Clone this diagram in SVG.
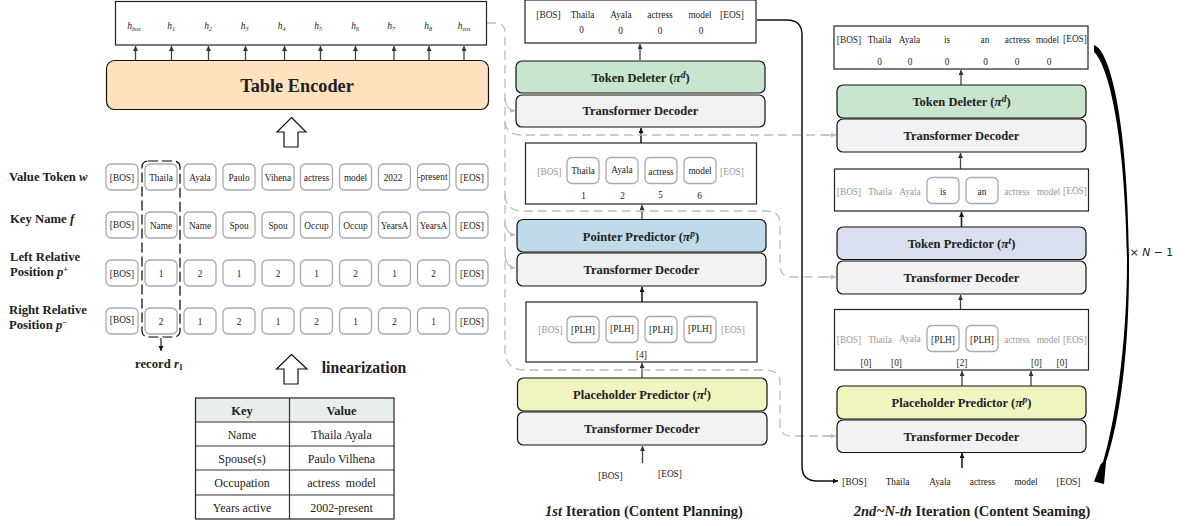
<svg xmlns="http://www.w3.org/2000/svg" width="1187" height="526" viewBox="0 0 1187 526">
<style>
text{font-family:"Liberation Serif","Times New Roman",serif;fill:#222;text-anchor:middle}
.t{font-size:9.300px}
.g{font-size:9.300px;fill:#999}
.h{font-size:9.500px;font-style:italic}
.s{font-size:6px}
.l{font-size:12.700px;font-weight:bold;text-anchor:start}
.b{font-weight:bold;font-size:12.500px}
.pi{font-style:italic;font-size:13.500px}
.sup{font-style:italic;font-size:9.500px}
.c{font-size:12px}
.tb{fill:#fff;stroke:#aaa;stroke-width:1.3}
.box{fill:#fff;stroke:#222;stroke-width:1.2}
.n{stroke:#111;stroke-width:1.2}
.a{fill:none;stroke:#444;stroke-width:1.3;marker-end:url(#ah)}
.k{fill:none;stroke:#222;stroke-width:1.6;marker-end:url(#kh)}
.d{fill:none;stroke:#bdbdbd;stroke-width:1.3;stroke-dasharray:9 5}
.da{fill:none;stroke:#bdbdbd;stroke-width:1.3;marker-end:url(#gh)}
</style>
<defs>
<marker id="ah" markerUnits="userSpaceOnUse" markerWidth="7" markerHeight="7" refX="5" refY="2.500" orient="auto"><path d="M0 0L5 2.500L0 5z" fill="#333"/></marker>
<marker id="gh" markerUnits="userSpaceOnUse" markerWidth="7" markerHeight="7" refX="5" refY="2.500" orient="auto"><path d="M0 0L5 2.500L0 5z" fill="#bdbdbd"/></marker>
<marker id="kh" markerUnits="userSpaceOnUse" markerWidth="7" markerHeight="7" refX="5" refY="2.500" orient="auto"><path d="M0 0L5 2.500L0 5z" fill="#111"/></marker>
</defs>

<g id="connectors">
<path class="a" d="M135.500 60V46"/><path class="a" d="M171.500 60V46"/><path class="a" d="M208.500 60V46"/><path class="a" d="M245.500 60V46"/><path class="a" d="M284.500 60V46"/><path class="a" d="M320.500 60V46"/><path class="a" d="M355.500 60V46"/><path class="a" d="M394 60V46"/><path class="a" d="M429 60V46"/><path class="a" d="M464 60V46"/>
<path class="a" d="M640 60V44"/><path class="k" d="M641 143V128"/><path class="a" d="M642 219V205"/><path class="k" d="M642 302V287"/><path class="a" d="M642 378V363"/><path class="a" d="M642.500 463V446"/>
<path class="a" d="M961 85V70"/><path class="a" d="M960.500 169V153"/><path class="k" d="M961.500 227V212"/><path class="a" d="M960.500 309V295"/><path class="a" d="M962 386V371"/><path class="a" d="M1031 386V371"/><path class="k" d="M962 468V453"/>
<path d="M161 338V351" fill="none" stroke="#222" stroke-width="1.2" marker-end="url(#kh)"/>
<path class="d" d="M487 23H495Q505 23 505 33V350Q505 370 525 370H765Q780 370 780 382V425Q780 436 792 436H832"/>
<path class="d" d="M505 122Q506 135 522 135H832"/>
<path class="d" d="M505 195Q506 211 522 211H765Q780 211 780 223V265Q780 277 792 277H832"/>
<path class="da" d="M505 98Q506 110 515 111"/>
<path class="da" d="M505 222Q506 234 515 235"/>
<path class="da" d="M505 255Q506 267 515 268"/>
<path class="da" d="M822 135H836"/><path class="da" d="M822 277H836"/><path class="da" d="M822 436H836"/>
<path d="M757 20H787Q802 20 802 35V466Q802 481 817 481H838" fill="none" stroke="#111" stroke-width="1.5" marker-end="url(#kh)"/>
<path d="M1094 45C1110 50 1128 120 1129 260C1129.500 350 1120 420 1106 462L1104 484L1094 481.500L1100.500 464.500L1103 462C1114 425 1127 350 1127 260C1125 130 1108 65 1094 52Z" fill="#000"/>
</g>

<g id="encoder-output">
<rect class="box" x="115.500" y="1.500" width="371" height="43.500"/>
<text class="h" x="134" y="29">h<tspan class="s" dy="1.500">box</tspan></text>
<text class="h" x="171" y="29">h<tspan class="s" dy="1.500">1</tspan></text>
<text class="h" x="208" y="29">h<tspan class="s" dy="1.500">2</tspan></text>
<text class="h" x="244.500" y="29">h<tspan class="s" dy="1.500">3</tspan></text>
<text class="h" x="281.500" y="29">h<tspan class="s" dy="1.500">4</tspan></text>
<text class="h" x="318" y="29">h<tspan class="s" dy="1.500">5</tspan></text>
<text class="h" x="355" y="29">h<tspan class="s" dy="1.500">6</tspan></text>
<text class="h" x="391" y="29">h<tspan class="s" dy="1.500">7</tspan></text>
<text class="h" x="428" y="29">h<tspan class="s" dy="1.500">8</tspan></text>
<text class="h" x="464" y="29">h<tspan class="s" dy="1.500">eos</tspan></text>
</g>

<g id="table-encoder">
<rect x="106.500" y="60.500" width="382" height="49" rx="8" fill="#fde2bd" stroke="#111" stroke-width="1.2"/>
<text x="297" y="92" font-size="18.300px" font-weight="bold">Table Encoder</text>
</g>
<g id="up-arrow-1"><path d="M291.500 117.500L306 132H298V147H284V132H277Z" fill="#fff" stroke="#111" stroke-width="1.2"/></g>
<g id="up-arrow-2"><path d="M291.500 354.500L307 369H298V384H284V369H276.500Z" fill="#fff" stroke="#111" stroke-width="1.2"/></g>
<g id="linearization-label"><text x="364" y="373" font-weight="bold" font-size="15.700px">linearization</text></g>

<g id="row-labels">
<text class="l" x="9" y="181">Value Token <tspan font-style="italic">w</tspan></text>
<text class="l" x="10" y="223">Key Name <tspan font-style="italic">f</tspan></text>
<text class="l" x="10" y="261">Left Relative</text>
<text class="l" x="10" y="276">Position <tspan font-style="italic">p</tspan><tspan font-size="8.500" dy="-4">+</tspan></text>
<text class="l" x="9" y="314">Right Relative</text>
<text class="l" x="9" y="329">Position <tspan font-style="italic">p</tspan><tspan font-size="8.500" dy="-4">−</tspan></text>
<text class="l" x="135" y="368">record <tspan font-style="italic">r</tspan><tspan font-size="8.500" dy="2">1</tspan></text>
</g>

<g id="token-grid">
<g id="row-value">
<rect class="tb" x="106" y="164" width="32" height="26" rx="5"/><text class="t" x="122" y="181">[BOS]</text>
<rect class="tb" x="145" y="164" width="32" height="26" rx="5"/><text class="t" x="161" y="181">Thaila</text>
<rect class="tb" x="184" y="164" width="32" height="26" rx="5"/><text class="t" x="200" y="181">Ayala</text>
<rect class="tb" x="223" y="164" width="32" height="26" rx="5"/><text class="t" x="239" y="181">Paulo</text>
<rect class="tb" x="262" y="164" width="32" height="26" rx="5"/><text class="t" x="278" y="181">Vihena</text>
<rect class="tb" x="300.500" y="164" width="32" height="26" rx="5"/><text class="t" x="316.500" y="181">actress</text>
<rect class="tb" x="339.500" y="164" width="32" height="26" rx="5"/><text class="t" x="355.500" y="181">model</text>
<rect class="tb" x="378.500" y="164" width="32" height="26" rx="5"/><text class="t" x="393" y="181">2022</text>
<rect class="tb" x="417.500" y="164" width="32" height="26" rx="5"/><text class="t" x="432.500" y="179.500">-present</text>
<rect class="tb" x="456" y="164" width="32" height="26" rx="5"/><text class="t" x="472" y="181">[EOS]</text>
</g>
<g id="row-key">
<rect class="tb" x="106" y="212" width="32" height="26" rx="5"/><text class="t" x="122" y="228">[BOS]</text>
<rect class="tb" x="145" y="212" width="32" height="26" rx="5"/><text class="t" x="161" y="229">Name</text>
<rect class="tb" x="184" y="212" width="32" height="26" rx="5"/><text class="t" x="200" y="229">Name</text>
<rect class="tb" x="223" y="212" width="32" height="26" rx="5"/><text class="t" x="239" y="229">Spou</text>
<rect class="tb" x="262" y="212" width="32" height="26" rx="5"/><text class="t" x="278" y="229">Spou</text>
<rect class="tb" x="300.500" y="212" width="32" height="26" rx="5"/><text class="t" x="316.500" y="229">Occup</text>
<rect class="tb" x="339.500" y="212" width="32" height="26" rx="5"/><text class="t" x="355.500" y="229">Occup</text>
<rect class="tb" x="378.500" y="212" width="32" height="26" rx="5"/><text class="t" x="394.500" y="229">YearsA</text>
<rect class="tb" x="417.500" y="212" width="32" height="26" rx="5"/><text class="t" x="433.500" y="229">YearsA</text>
<rect class="tb" x="456" y="212" width="32" height="26" rx="5"/><text class="t" x="472" y="229">[EOS]</text>
</g>
<g id="row-left">
<rect class="tb" x="106" y="260" width="32" height="26" rx="5"/><text class="t" x="122" y="277">[BOS]</text>
<rect class="tb" x="145" y="260" width="32" height="26" rx="5"/><text class="t" x="161" y="277">1</text>
<rect class="tb" x="184" y="260" width="32" height="26" rx="5"/><text class="t" x="200" y="277">2</text>
<rect class="tb" x="223" y="260" width="32" height="26" rx="5"/><text class="t" x="239" y="277">1</text>
<rect class="tb" x="262" y="260" width="32" height="26" rx="5"/><text class="t" x="278" y="277">2</text>
<rect class="tb" x="300.500" y="260" width="32" height="26" rx="5"/><text class="t" x="316.500" y="277">1</text>
<rect class="tb" x="339.500" y="260" width="32" height="26" rx="5"/><text class="t" x="355.500" y="277">2</text>
<rect class="tb" x="378.500" y="260" width="32" height="26" rx="5"/><text class="t" x="394.500" y="277">1</text>
<rect class="tb" x="417.500" y="260" width="32" height="26" rx="5"/><text class="t" x="433.500" y="277">2</text>
<rect class="tb" x="456" y="260" width="32" height="26" rx="5"/><text class="t" x="472" y="277">[EOS]</text>
</g>
<g id="row-right">
<rect class="tb" x="106" y="308" width="32" height="26" rx="5"/><text class="t" x="122" y="323">[BOS]</text>
<rect class="tb" x="145" y="308" width="32" height="26" rx="5"/><text class="t" x="161" y="325">2</text>
<rect class="tb" x="184" y="308" width="32" height="26" rx="5"/><text class="t" x="200" y="325">1</text>
<rect class="tb" x="223" y="308" width="32" height="26" rx="5"/><text class="t" x="239" y="325">2</text>
<rect class="tb" x="262" y="308" width="32" height="26" rx="5"/><text class="t" x="278" y="325">1</text>
<rect class="tb" x="300.500" y="308" width="32" height="26" rx="5"/><text class="t" x="316.500" y="325">2</text>
<rect class="tb" x="339.500" y="308" width="32" height="26" rx="5"/><text class="t" x="355.500" y="325">1</text>
<rect class="tb" x="378.500" y="308" width="32" height="26" rx="5"/><text class="t" x="394.500" y="325">2</text>
<rect class="tb" x="417.500" y="308" width="32" height="26" rx="5"/><text class="t" x="433.500" y="325">1</text>
<rect class="tb" x="456" y="308" width="32" height="26" rx="5"/><text class="t" x="472" y="325">[EOS]</text>
</g>
</g>
<g id="record-r1"><rect x="142" y="161" width="38" height="176" rx="6" fill="none" stroke="#000" stroke-width="1.200" stroke-dasharray="10 4"/></g>

<g id="source-table">
<rect x="195.500" y="398" width="198.500" height="24" fill="#e8efeb"/>
<rect x="195.500" y="398" width="198.500" height="121" fill="none" stroke="#222" stroke-width="1.2"/>
<path d="M195.500 422H394M195.500 446H394M195.500 470H394M195.500 495H394M289.500 398V519" stroke="#333" stroke-width="1.2" fill="none"/>
<text x="242" y="415" font-size="12.500px" font-weight="bold">Key</text><text x="341.500" y="415" font-size="12.500px" font-weight="bold">Value</text>
<text class="c" x="242" y="439">Name</text><text class="c" x="341.500" y="439">Thaila Ayala</text>
<text class="c" x="242" y="463">Spouse(s)</text><text class="c" x="341.500" y="463">Paulo Vilhena</text>
<text class="c" x="242" y="487">Occupation</text><text class="c" x="341.500" y="487" xml:space="preserve">actress  model</text>
<text class="c" x="242" y="512">Years active</text><text class="c" x="341.500" y="512">2002-present</text>
</g>

<g id="iter1-output">
<rect class="box" x="525" y="0" width="231" height="43"/>
<text class="t" x="548.500" y="18">[BOS]</text><text class="t" x="582.500" y="18">Thaila</text><text class="t" x="621" y="18">Ayala</text><text class="t" x="660" y="18">actress</text><text class="t" x="700" y="18">model</text><text class="t" x="732" y="18">[EOS]</text>
<text class="t" x="581.500" y="33">0</text><text class="t" x="620.500" y="34">0</text><text class="t" x="660" y="34">0</text><text class="t" x="701" y="34">0</text>
</g>
<g id="iter1-deleter"><rect class="n" x="516" y="61" width="249" height="32" rx="6" fill="#c9e5cd"/><text class="b" x="640.500" y="82">Token Deleter (<tspan class="pi">π</tspan><tspan class="sup" dy="-4">d</tspan><tspan dy="4">)</tspan></text></g>
<g id="iter1-decoder3"><rect class="n" x="516" y="95" width="249" height="32" rx="6" fill="#f2f2f5"/><text class="b" x="640.500" y="115">Transformer Decoder</text></g>
<g id="iter1-pointed">
<rect class="box" x="525.500" y="143" width="231" height="61"/>
<text class="g" x="549.500" y="175">[BOS]</text><text class="g" x="732" y="175">[EOS]</text>
<rect class="tb" x="567" y="157.500" width="32" height="26" rx="5"/><text class="t" x="583" y="174">Thaila</text>
<rect class="tb" x="606" y="157.500" width="32" height="26" rx="5"/><text class="t" x="622" y="173">Ayala</text>
<rect class="tb" x="645" y="157.500" width="32" height="26" rx="5"/><text class="t" x="661" y="174.500">actress</text>
<rect class="tb" x="684" y="157.500" width="32" height="26" rx="5"/><text class="t" x="700" y="174">model</text>
<text class="t" x="583.500" y="199">1</text><text class="t" x="622.500" y="199">2</text><text class="t" x="660.500" y="198">5</text><text class="t" x="699.500" y="199">6</text>
</g>
<g id="iter1-pointer"><rect class="n" x="517" y="219.500" width="249" height="32.500" rx="6" fill="#bfdbe9"/><text class="b" x="641" y="240.500">Pointer Predictor (<tspan class="pi">π</tspan><tspan class="sup" dy="-4">p</tspan><tspan dy="4">)</tspan></text></g>
<g id="iter1-decoder2"><rect class="n" x="517" y="253" width="249" height="33" rx="6" fill="#f2f2f5"/><text class="b" x="641.500" y="274">Transformer Decoder</text></g>
<g id="iter1-placeholders">
<rect class="box" x="526" y="302" width="231" height="60"/>
<text class="g" x="550.500" y="333">[BOS]</text><text class="g" x="733" y="333">[EOS]</text>
<rect class="tb" x="567" y="316.500" width="32" height="26" rx="5"/><text class="t" x="583" y="333">[PLH]</text>
<rect class="tb" x="606" y="316.500" width="32" height="26" rx="5"/><text class="t" x="622" y="332">[PLH]</text>
<rect class="tb" x="645" y="316.500" width="32" height="26" rx="5"/><text class="t" x="661" y="333">[PLH]</text>
<rect class="tb" x="684" y="316.500" width="32" height="26" rx="5"/><text class="t" x="700" y="332">[PLH]</text>
<text class="t" x="641.500" y="358">[4]</text>
</g>
<g id="iter1-placeholder"><rect class="n" x="517.500" y="378" width="249.500" height="33" rx="6" fill="#f2f4c0"/><text class="b" x="642" y="399">Placeholder Predictor (<tspan class="pi">π</tspan><tspan class="sup" dy="-4">l</tspan><tspan dy="4">)</tspan></text></g>
<g id="iter1-decoder1"><rect class="n" x="517.500" y="412" width="249.500" height="33" rx="6" fill="#f2f2f5"/><text class="b" x="642" y="433">Transformer Decoder</text></g>
<g id="iter1-input"><text class="t" x="610.500" y="479">[BOS]</text><text class="t" x="670" y="477">[EOS]</text></g>
<g id="iter1-caption"><text x="644" y="516" font-size="14.500px" font-weight="bold"><tspan font-style="italic">1st</tspan> Iteration (Content Planning)</text></g>

<g id="iter2-output">
<rect class="box" x="834" y="26" width="254" height="43"/>
<text class="t" x="849" y="43">[BOS]</text><text class="t" x="879.500" y="43">Thaila</text><text class="t" x="909.500" y="43">Ayala</text><text class="t" x="947" y="43">is</text><text class="t" x="985" y="43">an</text><text class="t" x="1017.500" y="43">actress</text><text class="t" x="1047.500" y="43">model</text><text class="t" x="1075" y="42">[EOS]</text>
<text class="t" x="879.500" y="65">0</text><text class="t" x="910" y="65">0</text><text class="t" x="947" y="65">0</text><text class="t" x="985.500" y="65">0</text><text class="t" x="1017" y="65">0</text><text class="t" x="1049" y="65">0</text>
</g>
<g id="iter2-deleter"><rect class="n" x="837" y="85" width="249" height="33" rx="6" fill="#c9e5cd"/><text class="b" x="961.500" y="106">Token Deleter (<tspan class="pi">π</tspan><tspan class="sup" dy="-4">d</tspan><tspan dy="4">)</tspan></text></g>
<g id="iter2-decoder3"><rect class="n" x="837" y="119" width="249" height="33" rx="6" fill="#f2f2f5"/><text class="b" x="961.500" y="140">Transformer Decoder</text></g>
<g id="iter2-tokens">
<rect class="box" x="834.500" y="169" width="254" height="42"/>
<text class="g" x="849" y="195">[BOS]</text><text class="g" x="880" y="195">Thaila</text><text class="g" x="910" y="195">Ayala</text><text class="g" x="1017" y="195">actress</text><text class="g" x="1048.500" y="195">model</text><text class="g" x="1075" y="194">[EOS]</text>
<rect class="tb" x="927" y="177.500" width="32" height="26" rx="5"/><text class="t" x="943" y="195">is</text>
<rect class="tb" x="966" y="177.500" width="32" height="26" rx="5"/><text class="t" x="982" y="195">an</text>
</g>
<g id="iter2-token-predictor"><rect class="n" x="837" y="227" width="249" height="32.500" rx="6" fill="#dadfef"/><text class="b" x="961.500" y="248">Token Predictor (<tspan class="pi">π</tspan><tspan class="sup" dy="-4">t</tspan><tspan dy="4">)</tspan></text></g>
<g id="iter2-decoder2"><rect class="n" x="837" y="261" width="249" height="33" rx="6" fill="#f2f2f5"/><text class="b" x="961.500" y="282">Transformer Decoder</text></g>
<g id="iter2-placeholders">
<rect class="box" x="834.500" y="309.500" width="254" height="60.500"/>
<text class="g" x="849" y="343">[BOS]</text><text class="g" x="880" y="343">Thaila</text><text class="g" x="910" y="342">Ayala</text><text class="g" x="1017" y="343">actress</text><text class="g" x="1048.500" y="343">model</text><text class="g" x="1075" y="343">[EOS]</text>
<rect class="tb" x="927" y="325.500" width="32" height="26" rx="5"/><text class="t" x="943" y="343">[PLH]</text>
<rect class="tb" x="966" y="325.500" width="32" height="26" rx="5"/><text class="t" x="982" y="343">[PLH]</text>
<text class="t" x="866" y="366">[0]</text><text class="t" x="896.500" y="366">[0]</text><text class="t" x="962" y="366">[2]</text><text class="t" x="1036.500" y="366">[0]</text><text class="t" x="1062" y="366">[0]</text>
</g>
<g id="iter2-placeholder"><rect class="n" x="837" y="386" width="249" height="33" rx="6" fill="#f2f4c0"/><text class="b" x="961.500" y="407">Placeholder Predictor (<tspan class="pi">π</tspan><tspan class="sup" dy="-4">p</tspan><tspan dy="4">)</tspan></text></g>
<g id="iter2-decoder1"><rect class="n" x="837" y="420" width="249" height="32.500" rx="6" fill="#f2f2f5"/><text class="b" x="961.500" y="441">Transformer Decoder</text></g>
<g id="iter2-input"><text class="t" x="854.500" y="485">[BOS]</text><text class="t" x="897.500" y="485">Thaila</text><text class="t" x="940" y="485">Ayala</text><text class="t" x="982.500" y="485">actress</text><text class="t" x="1026" y="485">model</text><text class="t" x="1068.500" y="485">[EOS]</text></g>
<g id="iter2-caption"><text x="972" y="516" font-size="14.500px" font-weight="bold"><tspan font-style="italic">2nd~N-th</tspan> Iteration (Content Seaming)</text></g>
<g id="repeat-label"><text x="1151.500" y="255.500" style="font-family:'DejaVu Sans',sans-serif;font-size:10.800px">× <tspan font-style="italic">N</tspan> − 1</text></g>
</svg>
